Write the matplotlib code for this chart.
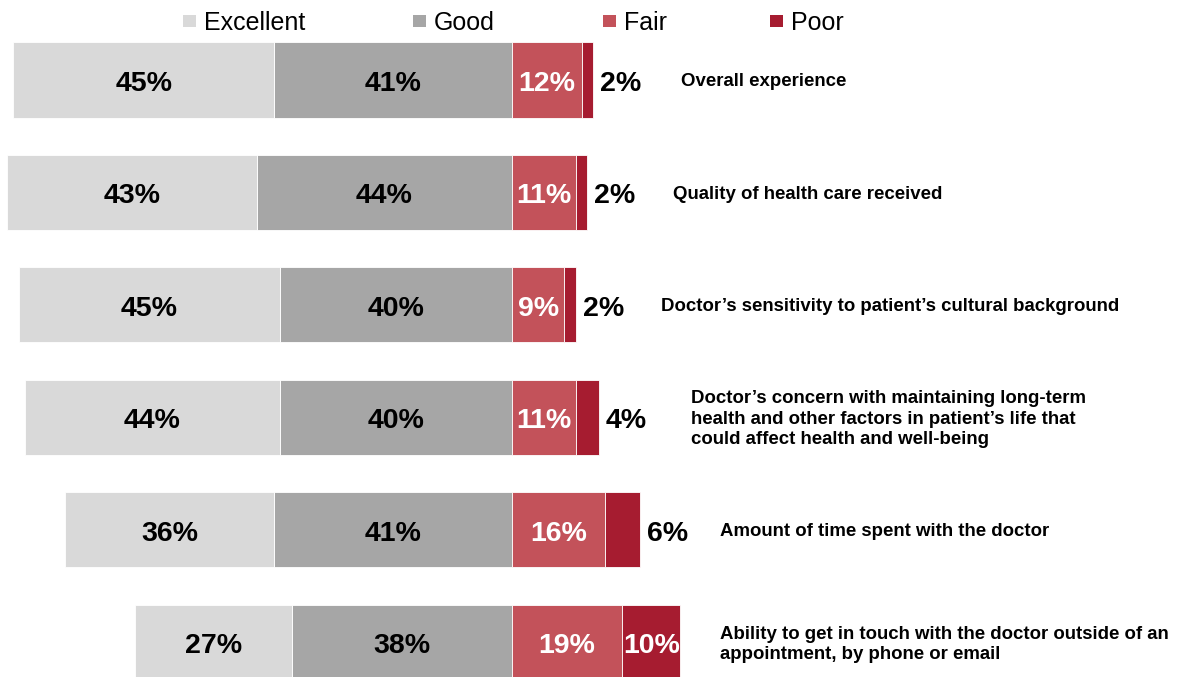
import matplotlib
matplotlib.use('Agg')
import matplotlib.pyplot as plt
from matplotlib.patches import Rectangle

# ---- data ----
categories = [
    "Overall experience",
    "Quality of health care received",
    "Doctor\u2019s sensitivity to patient\u2019s cultural background",
    "Doctor\u2019s concern with maintaining long-term\nhealth and other factors in patient\u2019s life that\ncould affect health and well-being",
    "Amount of time spent with the doctor",
    "Ability to get in touch with the doctor outside of an\nappointment, by phone or email",
]
series_names = ["Excellent", "Good", "Fair", "Poor"]
excellent = [45, 43, 45, 44, 36, 27]
good = [41, 44, 40, 40, 41, 38]
fair = [12, 11, 9, 11, 16, 19]
poor = [2, 2, 2, 4, 6, 10]

# ---- layout / style ----
colors = ["#D9D9D9", "#A6A6A6", "#C3525A", "#A61C30"]
label_x = [29.1, 27.8, 25.7, 30.9, 35.9, 35.9]     # category label x (data units)
legend_px = [183, 413, 603, 770]                   # legend marker left edges (px)
W, H = 1184, 677
FONT = "Liberation Sans"

fig = plt.figure(figsize=(W / 100, H / 100), dpi=100)
ax = fig.add_axes([0, 0, 1, 1])
ax.set_xlim(-88.28, 115.86)
ax.set_ylim(5.307, -0.711)
ax.axis("off")

ys = list(range(len(categories)))
h = 0.667
kw = dict(height=h, edgecolor="white", linewidth=0.6)
ax.barh(ys, good, left=[-g for g in good], color=colors[1], **kw)
ax.barh(ys, excellent, left=[-(g + e) for g, e in zip(good, excellent)], color=colors[0], **kw)
ax.barh(ys, fair, left=0, color=colors[2], **kw)
ax.barh(ys, poor, left=fair, color=colors[3], **kw)

pct_kw = dict(fontsize=20.5, fontweight="bold", family=FONT, va="baseline")
dy = 0.095
for i in ys:
    e, g, f, p = excellent[i], good[i], fair[i], poor[i]
    ax.text(-(g + e / 2), i + dy, f"{e}%", ha="center", color="black", **pct_kw)
    ax.text(-g / 2, i + dy, f"{g}%", ha="center", color="black", **pct_kw)
    ax.text(f / 2, i + dy, f"{f}%", ha="center", color="white", **pct_kw)
    if p >= 8:
        ax.text(f + p / 2, i + dy, f"{p}%", ha="center", color="white", **pct_kw)
    else:
        ax.text(f + p + 1.2, i + dy, f"{p}%", ha="left", color="black", **pct_kw)
    ax.text(label_x[i], i + 0.015, categories[i], ha="left", va="center", fontsize=13.4,
            fontweight="bold", family=FONT, linespacing=1.25, color="black")

# ---- legend ----
for name, c, px in zip(series_names, colors, legend_px):
    fig.add_artist(Rectangle((px / W, 1 - 27 / H), 13 / W, 12 / H,
                             transform=fig.transFigure, facecolor=c, edgecolor="none"))
    fig.text((px + 21) / W, 1 - 29.5 / H, name, ha="left", va="baseline",
             fontsize=18, family=FONT, color="black")

fig.savefig("out.png", dpi=100)
